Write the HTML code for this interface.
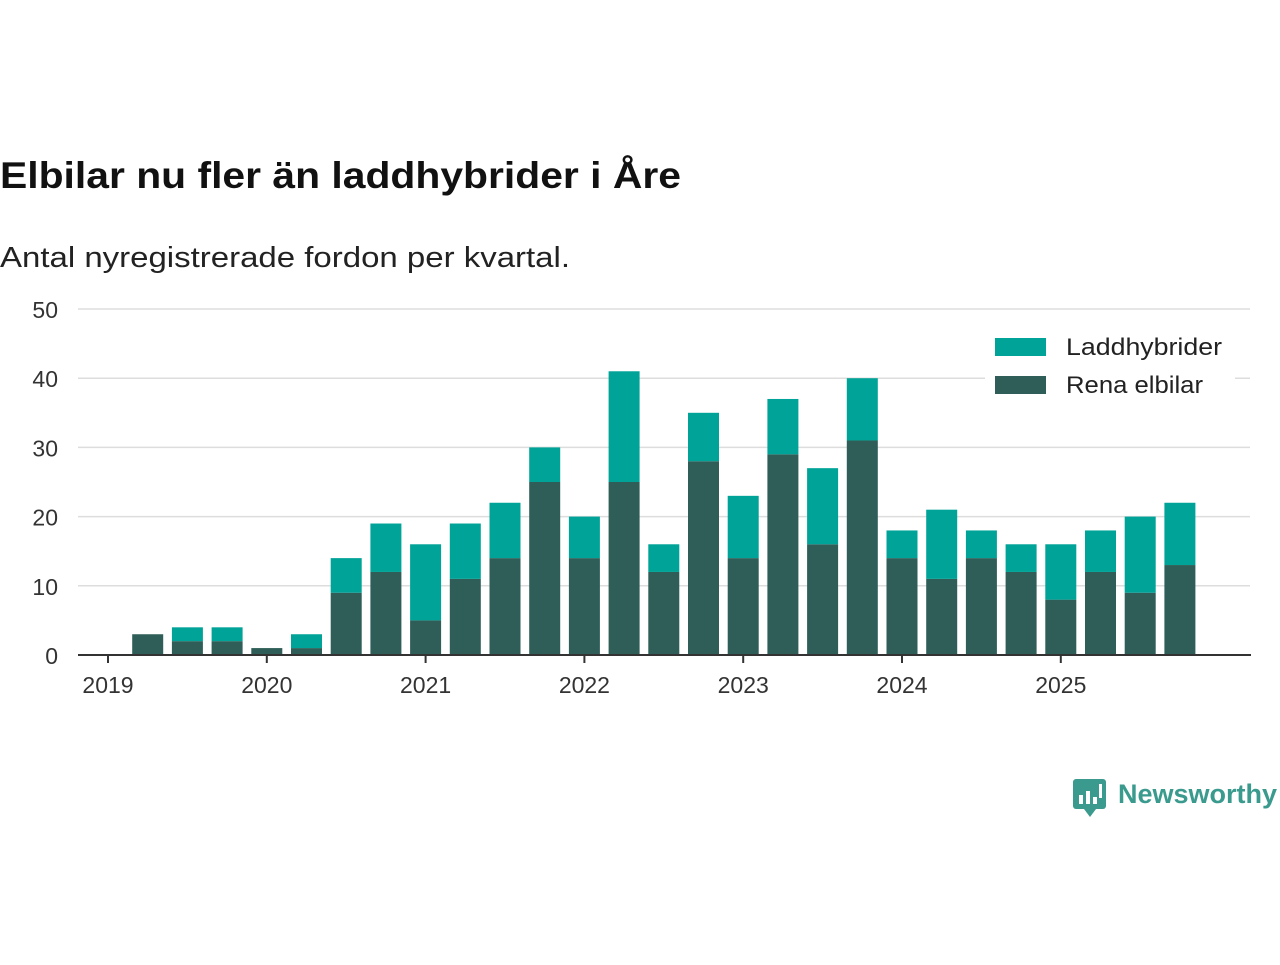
<!DOCTYPE html>
<html><head><meta charset="utf-8"><style>
body{margin:0;background:#fff;width:1280px;height:960px;overflow:hidden;font-family:"Liberation Sans","DejaVu Sans",sans-serif}
</style></head><body>
<svg width="1280" height="960" id="svg">
<text x="0" y="188" font-size="37" font-weight="bold" fill="#111" textLength="681" lengthAdjust="spacingAndGlyphs">Elbilar nu fler än laddhybrider i Åre</text>
<text x="0" y="267" font-size="29" fill="#222" textLength="570" lengthAdjust="spacingAndGlyphs">Antal nyregistrerade fordon per kvartal.</text>
<g id="grid"></g><g id="bars"></g><g id="axes"></g>
<g>
<rect x="985" y="330" width="250" height="74" fill="#fff"/>
<rect x="995" y="338" width="51" height="18" fill="#00a397"/>
<text x="1066" y="355" font-size="24" fill="#222" textLength="156" lengthAdjust="spacingAndGlyphs">Laddhybrider</text>
<rect x="995" y="376" width="51" height="18" fill="#2e5e57"/>
<text x="1066" y="393" font-size="24" fill="#222" textLength="137" lengthAdjust="spacingAndGlyphs">Rena elbilar</text>
</g>
<g>
<rect x="1073" y="779" width="33" height="30" rx="3" fill="#3a9a8e"/>
<polygon points="1084,809 1090,817 1096,809" fill="#3a9a8e"/>
<rect x="1079" y="795" width="4" height="9" fill="#fff"/><rect x="1086" y="791" width="4" height="13" fill="#fff"/><rect x="1093" y="797" width="4" height="7" fill="#fff"/><rect x="1099" y="784" width="3" height="14" fill="#fff"/>
<text x="1118" y="803" font-size="27" font-weight="bold" fill="#3a9a8e">Newsworthy</text>
</g>
</svg>
<script>
const quarters=28;
const rena=[0,3,2,2,1,1,9,12,5,11,14,25,14,25,12,28,14,29,16,31,14,11,14,12,8,12,9,13];
const ladd=[0,0,2,2,0,2,5,7,11,8,8,5,6,16,4,7,9,8,11,9,4,10,4,4,8,6,11,9];
const yTicks=[0,10,20,30,40,50];
const years=[2019,2020,2021,2022,2023,2024,2025];
const NS="http://www.w3.org/2000/svg";
const x0=108,qw=39.7,y0=655,pu=6.92,bw=31;
const xs=i=>x0+i*qw, ys=v=>y0-v*pu;
function mk(t,a,p){const e=document.createElementNS(NS,t);for(const k in a)e.setAttribute(k,a[k]);p.appendChild(e);return e;}
const grid=document.getElementById('grid'),bars=document.getElementById('bars'),axes=document.getElementById('axes');
yTicks.forEach(v=>{
 const l=mk('line',{x1:78,x2:1250,y1:ys(v),y2:ys(v),stroke:'#ddd','stroke-width':1.5},grid);
 
 
 const t=mk('text',{x:58,y:ys(v)+9,'font-size':23,fill:'#333','text-anchor':'end'},grid);t.textContent=v;
 
 
});
for(let i=0;i<quarters;i++){
 const r=mk('rect',{x:xs(i)-bw/2,y:ys(rena[i]),width:bw,height:rena[i]*pu,fill:'#2e5e57'},bars);
 
 
 const l=mk('rect',{x:xs(i)-bw/2,y:ys(rena[i]+ladd[i]),width:bw,height:ladd[i]*pu,fill:'#00a397'},bars);
 
 
}
const ax=mk('line',{x1:78,x2:1251,y1:y0,y2:y0,stroke:'#333','stroke-width':2},axes);


years.forEach((y,k)=>{
 const x=xs(k*4);
 mk('line',{x1:x,x2:x,y1:y0,y2:y0+8,stroke:'#333','stroke-width':2},axes);
 const t=mk('text',{x:x,y:693,'font-size':23,fill:'#333','text-anchor':'middle'},axes);t.textContent=y;
 
 
});
</script>
</body></html>
